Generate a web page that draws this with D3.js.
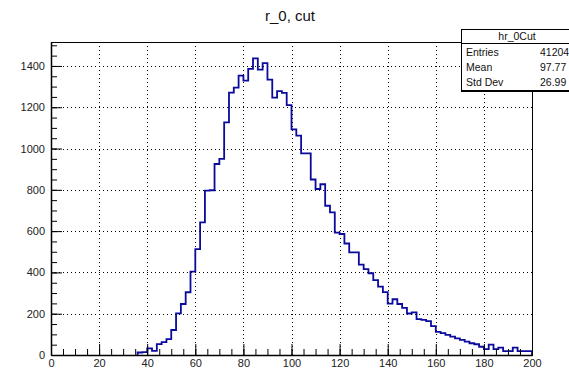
<!DOCTYPE html>
<html>
<head>
<meta charset="utf-8">
<script src="https://cdn.jsdelivr.net/npm/d3@7"></script>
<style>
  body { margin: 0; background: #fff; }
  svg { display: block; font-family: "Liberation Sans", Arial, sans-serif; }
</style>
</head>
<body>
<div id="chart"></div>
<script>
// histogram hr_0Cut: 100 bins of width 2 over [0, 200]
const binLow = d3.range(0, 200, 2);
const counts = [
  0, 0, 0, 0, 0, 0, 0, 0, 0, 0,
  0, 0, 0, 0, 0, 0, 0, 0, 12, 14,
  32, 20, 53, 62, 77, 121, 202, 247, 304, 404,
  513, 642, 796, 798, 925, 950, 1127, 1271, 1295, 1353,
  1329, 1386, 1437, 1382, 1414, 1334, 1247, 1278, 1270, 1210,
  1093, 1063, 977, 977, 850, 804, 827, 723, 691, 593,
  586, 540, 497, 497, 438, 416, 396, 363, 331, 305,
  249, 270, 247, 228, 201, 206, 174, 170, 164, 140,
  112, 106, 97, 89, 81, 73, 65, 57, 52, 40,
  28, 50, 28, 36, 19, 19, 36, 19, 19, 19
];
const xTicks = [0, 20, 40, 60, 80, 100, 120, 140, 160, 180, 200];
const yTicks = [0, 200, 400, 600, 800, 1000, 1200, 1400];
const statNames = ['Entries', 'Mean', 'Std Dev'];
const statValues = ['41204', '97.77', '26.99'];

const W = 569, H = 371;
const frame = {left: 51, right: 532, top: 42, bottom: 355};

const svg = d3.select('#chart').append('svg')
  .attr('width', W).attr('height', H);
svg.append('rect').attr('width', W).attr('height', H).attr('fill', '#fff');

const x = d3.scaleLinear().domain([0, 200]).range([frame.left, frame.right]);
const y = d3.scaleLinear().domain([0, 1516]).range([frame.bottom, frame.top]);

// dotted grid
const grid = svg.append('g').attr('stroke', '#000').attr('stroke-dasharray', '1,3');
grid.selectAll('.gx').data(xTicks.slice(1, -1)).enter().append('line')
  .attr('x1', d => Math.round(x(d)) + 0.5).attr('x2', d => Math.round(x(d)) + 0.5)
  .attr('y1', frame.top).attr('y2', frame.bottom);
grid.selectAll('.gy').data(yTicks.slice(1)).enter().append('line')
  .attr('y1', d => Math.round(y(d)) + 0.5).attr('y2', d => Math.round(y(d)) + 0.5)
  .attr('x1', frame.left).attr('x2', frame.right);

// histogram outline, starting at the first filled bin
const first = counts.findIndex(c => c > 0);
const pts = [[binLow[first], 0]];
binLow.forEach((lo, i) => {
  if (i < first) return;
  pts.push([lo, counts[i]]);
  pts.push([lo + 2, counts[i]]);
});
pts.push([200, 0]);
svg.append('path')
  .attr('d', d3.line().x(d => x(d[0])).y(d => y(d[1]))(pts))
  .attr('fill', 'none')
  .attr('stroke', '#0a0a9c')
  .attr('stroke-width', 1.8);

// frame
svg.append('rect')
  .attr('x', frame.left + 0.5).attr('y', frame.top + 0.5)
  .attr('width', frame.right - frame.left).attr('height', frame.bottom - frame.top)
  .attr('fill', 'none').attr('stroke', '#000');

// axes, ticks pointing inwards
function styleAxis(g) {
  g.select('.domain').attr('stroke', '#000').attr('stroke-width', 1.5);
  g.selectAll('.tick line').attr('stroke', '#000');
  g.selectAll('text').attr('fill', '#222').attr('font-size', 11);
}

svg.append('g')
  .attr('transform', 'translate(0,' + frame.bottom + ')')
  .call(d3.axisBottom(x).tickValues(d3.range(0, 201, 5)).tickSize(-6).tickFormat(''))
  .call(g => { g.select('.domain').remove(); g.selectAll('line').attr('stroke', '#000'); });
svg.append('g')
  .attr('transform', 'translate(0,' + frame.bottom + ')')
  .call(d3.axisBottom(x).tickValues(xTicks).tickSize(-11).tickPadding(4)
    .tickSizeOuter(0).tickFormat(d3.format('d')))
  .call(styleAxis);

svg.append('g')
  .attr('transform', 'translate(' + frame.left + ',0)')
  .call(d3.axisLeft(y).tickValues(d3.range(0, 1516, 50)).tickSize(-6).tickFormat(''))
  .call(g => { g.select('.domain').remove(); g.selectAll('line').attr('stroke', '#000'); });
svg.append('g')
  .attr('transform', 'translate(' + frame.left + ',0)')
  .call(d3.axisLeft(y).tickValues(yTicks).tickSize(-11).tickPadding(6)
    .tickSizeOuter(0).tickFormat(d3.format('d')))
  .call(styleAxis);

// title
svg.append('text')
  .attr('x', 290).attr('y', 21)
  .attr('text-anchor', 'middle')
  .attr('font-size', 15)
  .attr('fill', '#111')
  .text('r_0, cut');

// stats box
const box = svg.append('g');
box.append('rect')
  .attr('x', 461.5).attr('y', 29.5).attr('width', 130).attr('height', 61)
  .attr('fill', '#fff').attr('stroke', '#000');
box.append('line')
  .attr('x1', 461).attr('x2', 600).attr('y1', 91.5).attr('y2', 91.5)
  .attr('stroke', '#000');
box.append('line')
  .attr('x1', 461).attr('x2', 600).attr('y1', 43.5).attr('y2', 43.5)
  .attr('stroke', '#000');
box.append('text')
  .attr('x', 517).attr('y', 39.5)
  .attr('text-anchor', 'middle').attr('font-size', 10.5).attr('fill', '#111')
  .text('hr_0Cut');
statNames.forEach((name, i) => {
  const by = 56 + i * 14.8;
  box.append('text').attr('x', 466).attr('y', by)
    .attr('font-size', 10.5).attr('fill', '#111').text(name);
  box.append('text').attr('x', 540).attr('y', by)
    .attr('font-size', 10.5).attr('fill', '#111').text(statValues[i]);
});
</script>
</body>
</html>
